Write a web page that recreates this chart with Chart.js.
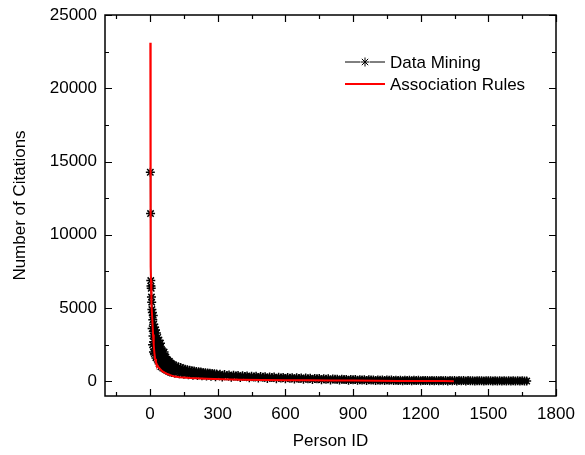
<!DOCTYPE html>
<html>
<head>
<meta charset="utf-8">
<script src="https://cdn.jsdelivr.net/npm/chart.js@4/dist/chart.umd.min.js"></script>
<style>
  html, body { margin: 0; padding: 0; background: #fff; }
  #wrap { width: 585px; height: 455px; }
</style>
</head>
<body>
<div id="wrap"><canvas id="chart" width="585" height="455"></canvas></div>
<script>
// tick labels
const xTicks = [0, 300, 600, 900, 1200, 1500, 1800];
const yTicks = [0, 5000, 10000, 15000, 20000, 25000];

// Data Mining: person id -> citations (scattered band)
const dmIds = [
  1, 2, 3, 4, 5, 6, 7, 8, 9, 10, 11, 12, 13, 14, 15, 16, 17, 18, 19, 20,
  22, 24, 26, 28, 30, 32, 34, 36, 38, 40, 42, 44, 46, 48, 50, 52, 54, 56, 58, 60,
  62, 64, 66, 68, 70, 72, 74, 76, 78, 80, 82, 84, 86, 88, 90, 92, 94, 96, 98, 100,
  105, 110, 115, 120, 125, 130, 135, 140, 145, 150, 155, 160, 165, 170, 175, 180, 185, 190, 195, 200,
  205, 210, 215, 220, 225, 230, 235, 240, 245, 250, 255, 260, 265, 270, 275, 280, 285, 290, 295, 300,
  310, 320, 330, 340, 350, 360, 370, 380, 390, 400, 410, 420, 430, 440, 450, 460, 470, 480, 490, 500,
  510, 520, 530, 540, 550, 560, 570, 580, 590, 600, 610, 620, 630, 640, 650, 660, 670, 680, 690, 700,
  710, 720, 730, 740, 750, 760, 770, 780, 790, 800, 810, 820, 830, 840, 850, 860, 870, 880, 890, 900,
  910, 920, 930, 940, 950, 960, 970, 980, 990, 1000, 1010, 1020, 1030, 1040, 1050, 1060, 1070, 1080, 1090, 1100,
  1110, 1120, 1130, 1140, 1150, 1160, 1170, 1180, 1190, 1200, 1210, 1220, 1230, 1240, 1250, 1260, 1270, 1280, 1290, 1300,
  1310, 1320, 1330, 1340, 1350, 1360, 1370, 1380, 1390, 1400, 1410, 1420, 1430, 1440, 1450, 1460, 1470, 1480, 1490, 1500,
  1510, 1520, 1530, 1540, 1550, 1560, 1570, 1580, 1590, 1600, 1610, 1620, 1630, 1640, 1650, 1660, 1670
];
const dmCites = [
  14270, 11450, 6880, 6500, 6350, 5750, 5400, 4900, 3600, 4700, 2500, 4200, 3100, 4500, 2000, 3900, 2700, 3400, 1900, 3700,
  2200, 3500, 1600, 3300, 2300, 1500, 3000, 1900, 2800, 1200, 2500, 1700, 2600, 1000, 2200, 1500, 2100, 900, 1900, 1300,
  2000, 850, 1700, 1150, 1650, 780, 1500, 1050, 1450, 700, 1350, 950, 1350, 640, 1250, 880, 1200, 600, 1150, 820,
  1100, 560, 1050, 780, 980, 520, 940, 700, 860, 480, 830, 640, 790, 450, 760, 590, 730, 420, 700, 560,
  680, 400, 650, 520, 630, 380, 610, 490, 590, 360, 570, 460, 550, 340, 530, 440, 510, 320, 500, 420,
  480, 300, 460, 390, 440, 280, 420, 360, 400, 260, 380, 330, 370, 240, 355, 300, 340, 220, 325, 280,
  310, 200, 300, 255, 290, 185, 280, 235, 270, 170, 260, 215, 250, 155, 240, 200, 230, 140, 220, 185,
  210, 125, 200, 170, 190, 110, 180, 150, 170, 100, 160, 135, 150, 90, 140, 120, 130, 80, 125, 105,
  120, 70, 115, 95, 110, 65, 105, 85, 100, 60, 95, 78, 90, 55, 88, 70, 85, 50, 80, 65,
  78, 45, 75, 60, 72, 42, 70, 55, 68, 40, 66, 52, 64, 38, 62, 48, 60, 35, 58, 45,
  56, 32, 55, 42, 54, 30, 52, 40, 50, 28, 50, 38, 48, 26, 47, 36, 46, 24, 45, 34,
  44, 22, 43, 32, 42, 20, 41, 30, 40, 18, 40, 28, 39, 16, 38, 26, 20
];

// Association Rules
const arIds = [1, 2, 3, 4, 5, 7, 10, 13, 16, 19, 22, 26, 30, 37, 45, 55, 65, 74, 90, 104,
  130, 178, 250, 320, 400, 500, 600, 700, 800, 900, 1000, 1100, 1200, 1300, 1347];
const arCites = [23100, 9500, 7800, 6900, 6200, 5200, 4200, 3200, 2500, 1950, 1545, 1300, 1150, 975, 830, 680, 590, 520, 420, 340,
  280, 225, 175, 140, 115, 95, 80, 70, 60, 50, 40, 32, 25, 18, 15];

const FONT = "'Liberation Sans', Arial, sans-serif";

function toPoints(xs, ys) {
  return xs.map((x, i) => ({ x: x, y: ys[i] }));
}

// box, inward ticks and legend like the original plot
const framePlugin = {
  id: 'frame',
  afterDraw(chart) {
    const ctx = chart.ctx;
    const a = chart.chartArea;
    const xs = chart.scales.x, ys = chart.scales.y;
    ctx.save();
    ctx.strokeStyle = '#000';
    ctx.lineWidth = 1.5;
    ctx.strokeRect(a.left, a.top, a.right - a.left, a.bottom - a.top);

    ctx.lineWidth = 1.2;
    const xStep = xTicks[1] - xTicks[0];
    for (let v = xTicks[0] - xStep / 2; v <= xs.max; v += xStep / 2) {
      if (v < xs.min) continue;
      const px = Math.round(xs.getPixelForValue(v)) + 0.5;
      const len = (v % xStep === 0) ? 7 : 4;
      ctx.beginPath();
      ctx.moveTo(px, a.bottom); ctx.lineTo(px, a.bottom - len);
      ctx.moveTo(px, a.top); ctx.lineTo(px, a.top + len);
      ctx.stroke();
    }
    const yStep = yTicks[1] - yTicks[0];
    for (let v = yTicks[0]; v <= ys.max; v += yStep / 2) {
      const py = Math.round(ys.getPixelForValue(v)) + 0.5;
      const len = (v % yStep === 0) ? 7 : 4;
      ctx.beginPath();
      ctx.moveTo(a.left, py); ctx.lineTo(a.left + len, py);
      ctx.moveTo(a.right, py); ctx.lineTo(a.right - len, py);
      ctx.stroke();
    }

    // legend
    ctx.font = '17px ' + FONT;
    ctx.textBaseline = 'middle';
    ctx.fillStyle = '#000';
    const lx = 345, lw = 40, tx = 390;
    const rows = [62, 84];
    chart.data.datasets.forEach(ds => {
      const y = rows[ds.legendRow];
      ctx.strokeStyle = ds.borderColor;
      ctx.lineWidth = ds.borderWidth;
      ctx.beginPath();
      ctx.moveTo(lx, y); ctx.lineTo(lx + lw, y);
      ctx.stroke();
      if (ds.pointRadius > 0) {
        ctx.fillStyle = '#fff';
        ctx.fillRect(lx + lw / 2 - 5, y - 5, 10, 10);
        ctx.strokeStyle = '#000';
        ctx.lineWidth = 1;
        Chart.helpers.drawPoint(ctx, { pointStyle: 'star', radius: 4.5, borderWidth: 1 }, lx + lw / 2, y);
      }
      ctx.fillStyle = '#000';
      ctx.fillText(ds.label, tx, y + 1);
    });
    ctx.restore();
  }
};

new Chart(document.getElementById('chart'), {
  type: 'scatter',
  data: {
    datasets: [
      {
        label: 'Data Mining',
        data: toPoints(dmIds, dmCites),
        showLine: true,
        borderColor: '#000',
        borderWidth: 1,
        pointStyle: 'star',
        pointRadius: 4.5,
        pointBorderColor: '#000',
        pointBorderWidth: 1.5,
        pointBackgroundColor: '#000',
        order: 2,
        legendRow: 0
      },
      {
        label: 'Association Rules',
        data: toPoints(arIds, arCites),
        showLine: true,
        borderColor: '#ff0000',
        borderWidth: 2,
        pointRadius: 0,
        order: 1,
        legendRow: 1
      }
    ]
  },
  options: {
    responsive: false,
    animation: false,
    layout: { padding: { top: 15, right: 29, left: 0, bottom: 0 } },
    plugins: {
      legend: { display: false },
      tooltip: { enabled: false }
    },
    scales: {
      x: {
        type: 'linear',
        min: -200,
        max: 1800,
        grid: { display: false },
        border: { display: false },
        afterBuildTicks: s => { s.ticks = xTicks.map(v => ({ value: v })); },
        afterFit: s => { s.height = 59; },
        ticks: { color: '#000', font: { family: FONT, size: 17 }, padding: 0, maxRotation: 0, callback: v => String(v) },
        title: { display: true, text: 'Person ID', color: '#000', font: { family: FONT, size: 17 }, padding: { top: 0, bottom: 3 } }
      },
      y: {
        type: 'linear',
        min: -1000,
        max: 25000,
        grid: { display: false },
        border: { display: false },
        afterBuildTicks: s => { s.ticks = yTicks.map(v => ({ value: v })); },
        afterFit: s => { s.width = 105; },
        ticks: { color: '#000', font: { family: FONT, size: 17 }, padding: 0, callback: v => String(v) },
        title: { display: true, text: 'Number of Citations', color: '#000', font: { family: FONT, size: 17 }, padding: { top: 10, bottom: 0 } }
      }
    }
  },
  plugins: [framePlugin]
});
</script>
</body>
</html>
